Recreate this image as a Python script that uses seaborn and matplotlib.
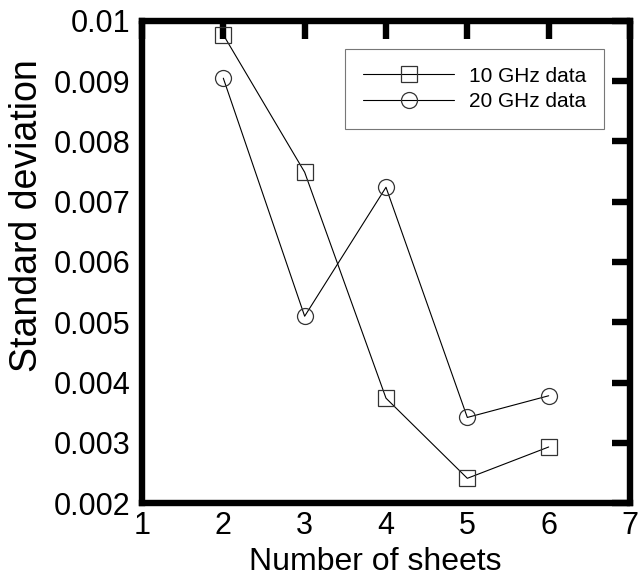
import matplotlib
matplotlib.use("Agg")
import matplotlib.pyplot as plt
import seaborn as sns
import pandas as pd

sheets = [2, 3, 4, 5, 6]
std_10ghz = [0.00977, 0.00749, 0.00374, 0.00241, 0.00293]
std_20ghz = [0.00905, 0.00510, 0.00724, 0.00342, 0.00378]
series_names = ["10 GHz data", "20 GHz data"]
x_ticks = [1, 2, 3, 4, 5, 6, 7]
y_ticks = [0.002, 0.003, 0.004, 0.005, 0.006, 0.007, 0.008, 0.009, 0.01]
y_tick_labels = ["0.002", "0.003", "0.004", "0.005", "0.006", "0.007", "0.008", "0.009", "0.01"]

df = pd.DataFrame({
    "sheets": sheets * 2,
    "std": std_10ghz + std_20ghz,
    "series": [series_names[0]] * len(sheets) + [series_names[1]] * len(sheets),
})

sns.set_style("white")
plt.rcParams["font.family"] = ["Liberation Sans", "DejaVu Sans"]
plt.rcParams["text.color"] = "black"
plt.rcParams["axes.labelcolor"] = "black"
plt.rcParams["xtick.color"] = "black"
plt.rcParams["ytick.color"] = "black"

fig = plt.figure(figsize=(6.43, 5.82), dpi=100)
ax = fig.add_axes([0.2208, 0.1357, 0.9798 - 0.2208, 0.964 - 0.1357])

sns.lineplot(data=df, x="sheets", y="std", hue="series", style="series",
             palette=["black", "black"], markers={series_names[0]: "s", series_names[1]: "o"},
             dashes=False, linewidth=0.8, markersize=11.5, ax=ax,
             markerfacecolor="none", markeredgecolor="#333333", markeredgewidth=0.9,
             legend=True)

ax.set_xlim(1, 7)
ax.set_ylim(0.002, 0.01)
ax.set_xticks(x_ticks)
ax.set_yticks(y_ticks)
ax.set_yticklabels(y_tick_labels)
for s in ax.spines.values():
    s.set_linewidth(4.6)
    s.set_color("black")
ax.tick_params(axis="both", which="major", direction="in", length=13, width=4.6,
               labelsize=22, top=True, right=True, color="black", labelcolor="black")
ax.tick_params(axis="y", pad=8)
ax.tick_params(axis="x", pad=6)
ax.set_xlabel("")
ax.set_ylabel("")
fig.text(375 / 643, 1 - 562 / 582, "Number of sheets", fontsize=23,
         ha="center", va="center", color="black")
fig.text(27 / 643, 1 - 216 / 582, "Standard deviation", fontsize=27,
         ha="center", va="center", rotation=90, color="black")

leg = ax.legend(loc="upper right", bbox_to_anchor=(0.9467, 0.942), borderaxespad=0,
                fontsize=15, frameon=True, fancybox=False, edgecolor="#555555",
                handlelength=4.4, borderpad=0.85, labelspacing=0.3, handletextpad=0.7)
leg.get_frame().set_linewidth(0.8)
for t in leg.get_texts():
    t.set_color("black")
for h in leg.legend_handles:
    h.set_markerfacecolor("none")
    h.set_markeredgecolor("#333333")

fig.savefig("out.png", dpi=100)
